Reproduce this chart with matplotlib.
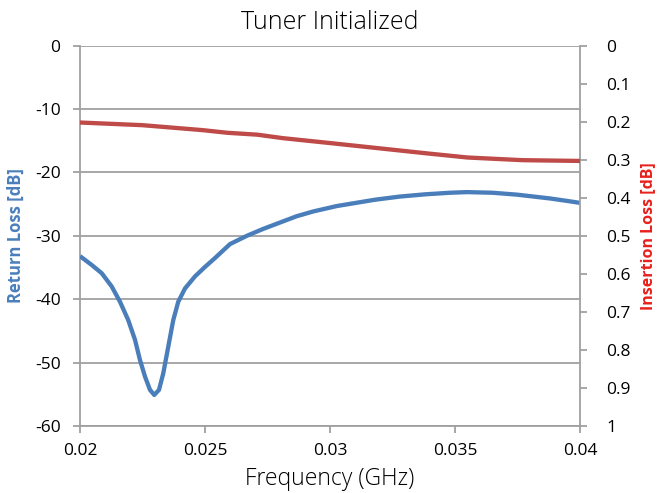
import matplotlib
matplotlib.use("Agg")
import matplotlib.pyplot as plt

# Return loss (blue, left axis)
rl_freq = [0.02000, 0.02047, 0.02087, 0.02127, 0.02160, 0.02193, 0.02220, 0.02240,
           0.02260, 0.02280, 0.02297, 0.02316, 0.02333, 0.02353, 0.02373, 0.02393,
           0.02420, 0.02460, 0.02500, 0.02540, 0.02600, 0.02667, 0.02733, 0.02800,
           0.02867, 0.02933, 0.03027, 0.03180, 0.03280, 0.03380, 0.03480,
           0.03548, 0.03650, 0.03748, 0.03880, 0.03950, 0.04000]
rl_db = [-33.2, -34.6, -35.9, -38.0, -40.4, -43.3, -46.4, -49.6,
         -52.2, -54.3, -55.1, -54.3, -51.7, -47.5, -43.3, -40.4,
         -38.3, -36.4, -34.9, -33.5, -31.3, -30.0, -28.9, -27.9,
         -26.9, -26.15, -25.3, -24.3, -23.8, -23.45, -23.2,
         -23.1, -23.2, -23.5, -24.1, -24.5, -24.8]

# Insertion loss (red, right axis)
il_freq = [0.0200, 0.0225, 0.0249, 0.0259, 0.0271, 0.0281, 0.0300, 0.0320,
           0.0340, 0.0355, 0.0377, 0.0400]
il_db = [0.202, 0.209, 0.222, 0.229, 0.234, 0.243, 0.256, 0.270,
         0.284, 0.294, 0.301, 0.303]

x_ticks = [0.02, 0.025, 0.03, 0.035, 0.04]
x_labels = ["0.02", "0.025", "0.03", "0.035", "0.04"]
left_ticks = [0, -10, -20, -30, -40, -50, -60]
right_ticks = [0, 0.1, 0.2, 0.3, 0.4, 0.5, 0.6, 0.7, 0.8, 0.9, 1.0]
right_labels = ["0", "0.1", "0.2", "0.3", "0.4", "0.5", "0.6", "0.7", "0.8", "0.9", "1"]

FONT = "Open Sans"
GRAY = "#a0a0a0"
BLUE = "#4a7ebb"
RED = "#be4b48"

W, H = 659, 493
fig = plt.figure(figsize=(W / 100, H / 100), dpi=100)
ax = fig.add_axes([80 / W, (H - 426) / H, 500 / W, 380.3 / H])
ax2 = ax.twinx()

ax.set_xlim(0.02, 0.04)
ax.set_ylim(-60, 0)
ax2.set_ylim(1, 0)

ax.set_yticks(left_ticks)
ax.set_yticklabels([str(t) for t in left_ticks], fontfamily=FONT, fontsize=12.5)
ax.set_xticks(x_ticks)
ax.set_xticklabels(x_labels, fontfamily=FONT, fontsize=12.5)
ax2.set_yticks(right_ticks)
ax2.set_yticklabels(right_labels, fontfamily=FONT, fontsize=12.5, ha="left")

ax.grid(axis="y", color=GRAY, linewidth=1.3)
ax.set_axisbelow(True)
for a in (ax, ax2):
    for s in a.spines.values():
        s.set_color(GRAY)
        s.set_linewidth(1.3)
    a.spines["top"].set_visible(False)
ax.spines["right"].set_visible(False)
ax2.spines["left"].set_visible(False)
ax2.spines["bottom"].set_visible(False)

ax.tick_params(axis="y", direction="out", length=5, width=1.3, color=GRAY, pad=9)
ax.tick_params(axis="x", direction="out", length=5, width=1.3, color=GRAY, pad=7)
ax2.tick_params(axis="y", direction="out", length=5, width=1.3, color=GRAY, pad=14)

ax.plot(rl_freq, rl_db, color=BLUE, linewidth=3.1, solid_capstyle="butt",
        solid_joinstyle="round", zorder=3)
ax2.plot(il_freq, il_db, color=RED, linewidth=3.1, solid_capstyle="butt",
         solid_joinstyle="round", zorder=3)

ax.set_title("Tuner Initialized", fontfamily=FONT, fontsize=18, fontweight="light", pad=12)
ax.set_xlabel("Frequency (GHz)", fontfamily=FONT, fontsize=16.5, fontweight="light")
ax.xaxis.set_label_coords(0.5, (426 - 467) / 380.3)
ax.set_ylabel("Return Loss [dB]", fontfamily=FONT, fontsize=12, fontweight="bold", color=BLUE)
ax.yaxis.set_label_coords((25 - 80) / 500, 0.5)
ax2.set_ylabel("Insertion Loss [dB]", fontfamily=FONT, fontsize=11.5, fontweight="bold", color="#e8201c")
ax2.yaxis.set_label_coords((640 - 80) / 500, 0.5)

fig.savefig("out.png", dpi=100)
